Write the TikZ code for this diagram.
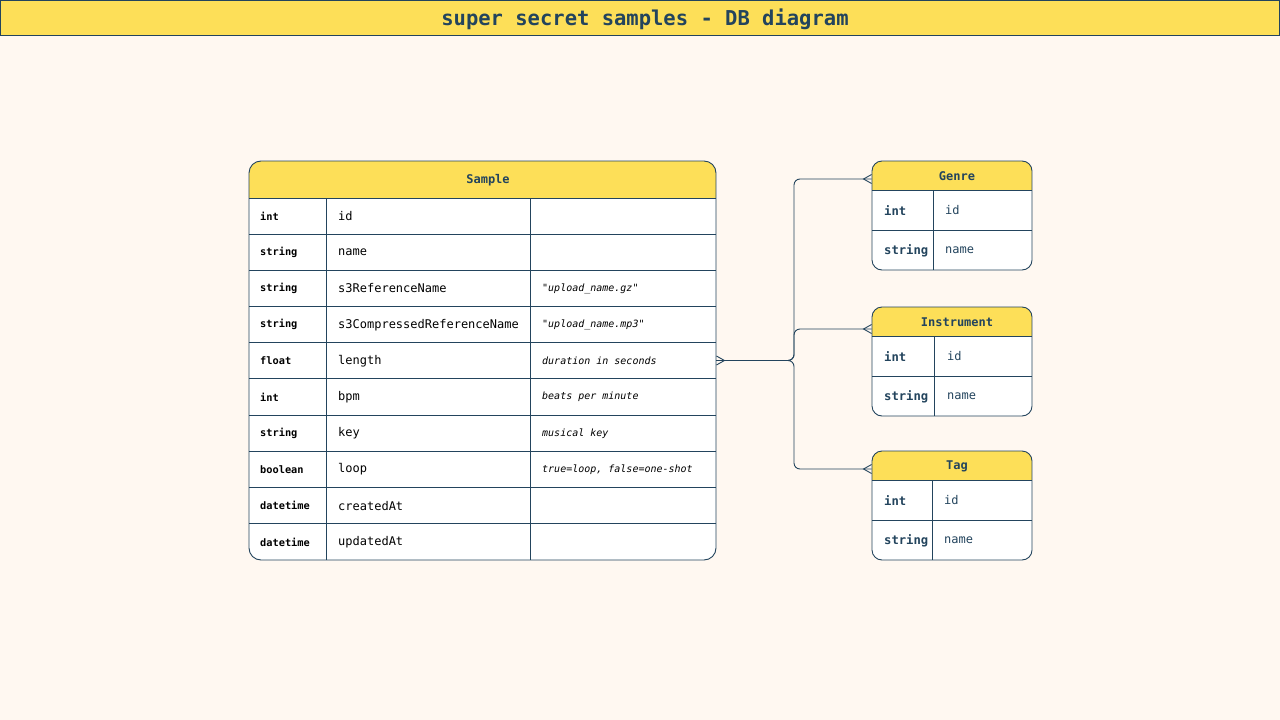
\documentclass[tikz,border=0pt]{standalone}
\usepackage{fontspec}
\setmonofont{DejaVu Sans Mono}
\renewcommand{\familydefault}{\ttdefault}
\definecolor{bg}{HTML}{FFF8F1}
\definecolor{yel}{HTML}{FDDF58}
\definecolor{ink}{HTML}{23445D}
\tikzset{
  tbl/.style={draw=ink, fill=white, line width=0.9pt, rounded corners=#1, inner sep=0pt,
    path picture={\fill[yel, sharp corners] (path picture bounding box.north west) rectangle ([yshift=-\hdr]path picture bounding box.north east);}},
  gridline/.style={draw=ink, line width=0.9pt},
  conn/.style={draw=ink, line width=0.9pt},
  stype/.style={anchor=west, inner sep=0pt, font=\fontsize{10.3}{12}\selectfont\bfseries, text=black},
  sname/.style={anchor=west, inner sep=0pt, font=\fontsize{12}{14}\selectfont, text=black},
  snote/.style={anchor=west, inner sep=0pt, font=\fontsize{10}{12}\selectfont\itshape, text=black},
  ttype/.style={anchor=west, inner sep=0pt, font=\fontsize{12.2}{14}\selectfont\bfseries, text=ink},
  tname/.style={anchor=west, inner sep=0pt, font=\fontsize{12}{14}\selectfont, text=ink},
  thead/.style={inner sep=0pt, font=\fontsize{12}{14}\selectfont\bfseries, text=ink},
  titletxt/.style={inner sep=0pt, font=\fontsize{20.5}{24}\selectfont\bfseries, text=ink},
}
\newlength{\hdr}
\begin{document}
\begin{tikzpicture}[x=1pt,y=-1pt]
\fill[bg] (0,0) rectangle (1280,720);
\useasboundingbox (0,0) rectangle (1280,720);
% title bar
\node[draw=ink, fill=yel, line width=1pt, minimum width=1279pt, minimum height=35.5pt, inner sep=0pt] (titlebar) at (640,18.2) {};
\node[titletxt] (title) at (645,19) {super secret samples - DB diagram};

% Sample table
\setlength{\hdr}{37pt}
\node[tbl=12pt, minimum width=467pt, minimum height=399pt] (sample) at (482.5,360.5) {};
\node[thead] (sampleH) at (488,180.5) {Sample};
\foreach \yy in {198,234,270,306,342,378,415,451,487,523}
  \draw[gridline] (249,\yy) -- (716,\yy);
\draw[gridline] (326,198) -- (326,560);
\draw[gridline] (530,198) -- (530,560);
\foreach \t/\n/\c [count=\i from 0] in {
  int/id/{},
  string/name/{},
  string/s3ReferenceName/{"upload\_name.gz"},
  string/s3CompressedReferenceName/{"upload\_name.mp3"},
  float/length/{duration in seconds},
  int/bpm/{beats per minute},
  string/key/{musical key},
  boolean/loop/{true=loop, false=one-shot},
  datetime/createdAt/{},
  datetime/updatedAt/{}} {
  \pgfmathsetmacro{\yc}{198+36.2*(\i+0.5)}
  \node[stype] (st\i) at (260,\yc) {\t};
  \node[sname] (sn\i) at (338,\yc) {\n};
  \node[snote] (sc\i) at (542,\yc) {\c};
}

% small tables
\setlength{\hdr}{29pt}
\node[tbl=10pt, minimum width=160pt, minimum height=109pt] (genre) at (952,215.5) {};
\node[tbl=10pt, minimum width=160pt, minimum height=109pt] (instrument) at (952,361.5) {};
\node[tbl=10pt, minimum width=160pt, minimum height=109pt] (tag) at (952,505.5) {};

\node[thead] (genreH) at (957,176.5) {Genre};
\node[thead] (instrumentH) at (957,322.5) {Instrument};
\node[thead] (tagH) at (957,466.5) {Tag};

\draw[gridline] (872,190) -- (1032,190);
\draw[gridline] (872,230) -- (1032,230);
\draw[gridline] (933,190) -- (933,270);
\draw[gridline] (872,336) -- (1032,336);
\draw[gridline] (872,376) -- (1032,376);
\draw[gridline] (934,336) -- (934,416);
\draw[gridline] (872,480) -- (1032,480);
\draw[gridline] (872,520) -- (1032,520);
\draw[gridline] (932,480) -- (932,560);

\node[ttype] (gt1) at (884,210.5) {int};
\node[tname] (gn1) at (945,210.5) {id};
\node[ttype] (gt2) at (884,250.5) {string};
\node[tname] (gn2) at (945,250.5) {name};
\node[ttype] (it1) at (884,356.5) {int};
\node[tname] (in1) at (947,356.5) {id};
\node[ttype] (it2) at (884,396.5) {string};
\node[tname] (in2) at (947,396.5) {name};
\node[ttype] (tt1) at (884,500.5) {int};
\node[tname] (tn1) at (944,500.5) {id};
\node[ttype] (tt2) at (884,540.5) {string};
\node[tname] (tn2) at (944,540.5) {name};

% connectors
\coordinate (genIn) at (genre.west |- 0,179);
\coordinate (insIn) at (instrument.west |- 0,329);
\coordinate (tagIn) at (tag.west |- 0,469);
\coordinate (hub) at (794,360.5);
\draw[conn] (sample.east) -- ([xshift=-6pt]hub);
\draw[conn, rounded corners=6pt] (sample.east) -- (hub) |- (genIn);
\draw[conn, rounded corners=6pt] (sample.east) -- (hub) |- (insIn);
\draw[conn, rounded corners=6pt] (sample.east) -- (hub) |- (tagIn);
% crow's feet
\draw[conn] ([yshift=4.5pt]sample.east) -- ([xshift=8pt]sample.east) -- ([yshift=-4.5pt]sample.east);
\foreach \c in {genIn,insIn,tagIn}
  \draw[conn] ([yshift=4.5pt]\c) -- ([xshift=-8pt]\c) -- ([yshift=-4.5pt]\c);
\end{tikzpicture}
\end{document}
